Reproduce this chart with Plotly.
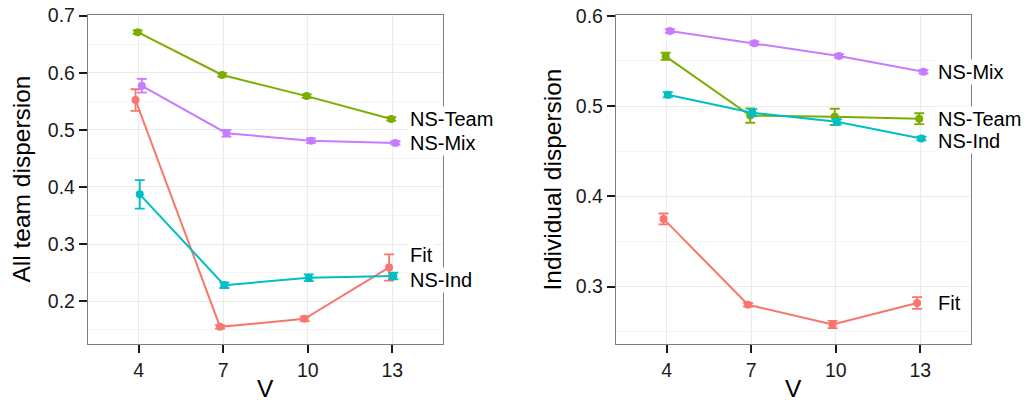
import plotly.graph_objects as go

# ---------------- data ----------------
V_labels = ["4", "7", "10", "13"]
series = ["Fit", "NS-Team", "NS-Ind", "NS-Mix"]
colors = ["#F8766D", "#7CAE00", "#00BFC4", "#C77CFF"]

# Left panel: All team dispersion
fit_left = [0.552, 0.155, 0.169, 0.259]
fit_left_err = [0.019, 0.003, 0.004, 0.023]
team_left = [0.671, 0.596, 0.559, 0.519]
team_left_err = [0.003, 0.003, 0.003, 0.003]
ind_left = [0.387, 0.228, 0.241, 0.244]
ind_left_err = [0.025, 0.005, 0.006, 0.006]
mix_left = [0.577, 0.494, 0.481, 0.477]
mix_left_err = [0.012, 0.006, 0.004, 0.003]

# Right panel: Individual dispersion
fit_right = [0.375, 0.280, 0.258, 0.282]
fit_right_err = [0.006, 0.002, 0.004, 0.0065]
team_right = [0.555, 0.4895, 0.488, 0.486]
team_right_err = [0.004, 0.008, 0.009, 0.006]
ind_right = [0.5125, 0.4925, 0.4825, 0.464]
ind_right_err = [0.003, 0.004, 0.003, 0.002]
mix_right = [0.583, 0.5695, 0.5555, 0.538]
mix_right_err = [0.002, 0.002, 0.002, 0.002]

left_vals = [fit_left, team_left, ind_left, mix_left]
left_errs = [fit_left_err, team_left_err, ind_left_err, mix_left_err]
right_vals = [fit_right, team_right, ind_right, mix_right]
right_errs = [fit_right_err, team_right_err, ind_right_err, mix_right_err]

# label nudges (repel) relative to last value
left_nudge = [0.022, 0.0, -0.007, 0.0]
right_nudge = [0.0, 0.0, -0.003, 0.0]

# ---------------- figure ----------------
FONT = "Liberation Sans, Arial, Helvetica, sans-serif"
W, H = 1026, 400
dodge_width = 0.1
n = len(series)

fig = go.Figure()

panels = [
    ("x", "y", left_vals, left_errs, left_nudge),
    ("x2", "y2", right_vals, right_errs, right_nudge),
]

for xa, ya, vals, errs, nudges in panels:
    for i, (name, col, v, e, nd) in enumerate(zip(series, colors, vals, errs, nudges)):
        off = (i - (n - 1) / 2) * dodge_width / n
        xs = [k + off for k in range(len(V_labels))]
        fig.add_trace(go.Scatter(
            x=xs, y=v, mode="lines+markers", xaxis=xa, yaxis=ya,
            line=dict(color=col, width=2),
            marker=dict(color=col, size=8),
            error_y=dict(type="data", array=e, visible=True, color=col,
                         thickness=1.8, width=5),
            showlegend=False, name=name,
        ))
        fig.add_annotation(
            x=len(V_labels) - 1 + 0.19, y=v[-1] + nd, xref=xa, yref=ya,
            text=name, showarrow=False, xanchor="left", yanchor="middle",
            bgcolor="white", borderpad=1,
            font=dict(family=FONT, size=20, color="black"),
        )

x_dom1 = [88 / W, 443 / W]
x_dom2 = [616 / W, 971 / W]
y_dom = [1 - 344 / H, 1 - 15 / H]

common_x = dict(
    tickmode="array", tickvals=list(range(len(V_labels))), ticktext=V_labels,
    range=[-0.6, len(V_labels) - 0.4],
    showgrid=True, gridcolor="#EBEBEB", gridwidth=1,
    showline=True, linecolor="#7F7F7F", linewidth=1.3, mirror=True,
    ticks="outside", ticklen=8, tickwidth=2, tickcolor="#1a1a1a",
    tickfont=dict(family=FONT, size=19.5, color="#1a1a1a"),
    zeroline=False, automargin=False,
)
common_y = dict(
    dtick=0.1,
    showgrid=True, gridcolor="#EBEBEB", gridwidth=1,
    showline=True, linecolor="#7F7F7F", linewidth=1.3, mirror=True,
    ticks="outside", ticklen=8, tickwidth=2, tickcolor="#1a1a1a",
    tickfont=dict(family=FONT, size=19.5, color="#1a1a1a"),
    zeroline=False, automargin=False,
    minor=dict(dtick=0.1, tick0=0.05, showgrid=True, gridcolor="#F5F5F5",
               gridwidth=1, ticks=""),
)

fig.update_layout(
    width=W, height=H,
    margin=dict(l=0, r=0, t=0, b=0),
    paper_bgcolor="white", plot_bgcolor="white",
    xaxis=dict(domain=x_dom1, anchor="y", **common_x),
    yaxis=dict(domain=y_dom, anchor="x", range=[0.125, 0.701], tick0=0.2, **common_y),
    xaxis2=dict(domain=x_dom2, anchor="y2", **common_x),
    yaxis2=dict(domain=y_dom, anchor="x2", range=[0.2365, 0.6008], tick0=0.3, **common_y),
    font=dict(family=FONT, color="black"),
)

title_font = dict(family=FONT, size=24.5, color="black")
ymid = (y_dom[0] + y_dom[1]) / 2
fig.add_annotation(x=21 / W, y=ymid, xref="paper", yref="paper", text="All team dispersion",
                   textangle=-90, showarrow=False, font=title_font,
                   xanchor="center", yanchor="middle")
fig.add_annotation(x=552 / W, y=ymid, xref="paper", yref="paper", text="Individual dispersion",
                   textangle=-90, showarrow=False, font=title_font,
                   xanchor="center", yanchor="middle")
for dom in (x_dom1, x_dom2):
    fig.add_annotation(x=sum(dom) / 2, y=1 - 388 / H, xref="paper", yref="paper", text="V",
                       showarrow=False, font=title_font, xanchor="center", yanchor="middle",
                       height=20, borderpad=0)

fig.write_html("out.html")
